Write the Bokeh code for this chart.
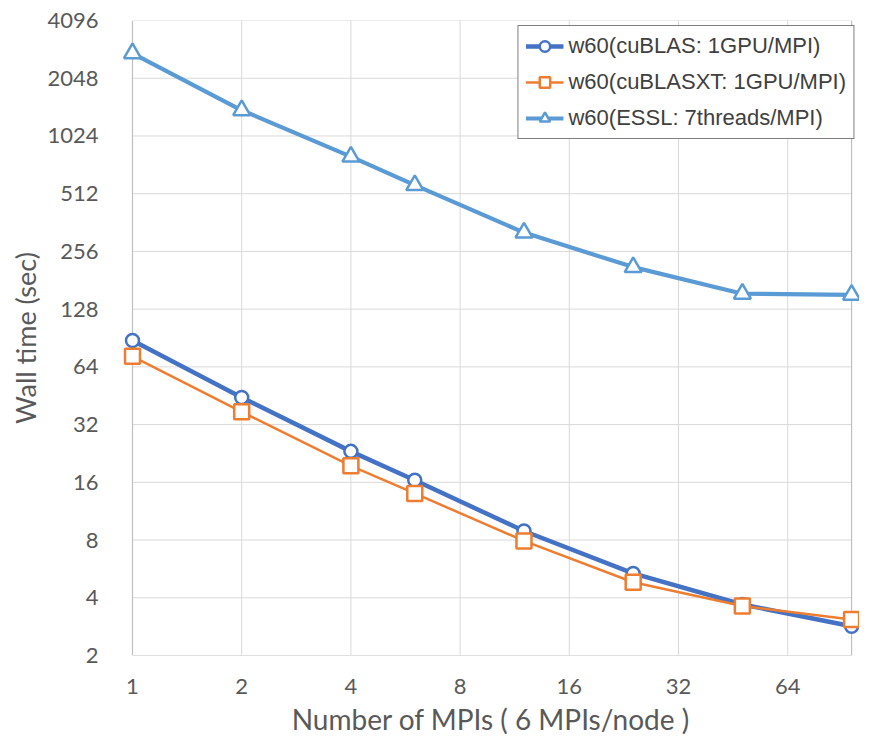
from bokeh.plotting import figure
from bokeh.models import Range1d, FixedTicker, ColumnDataSource, Legend, LegendItem
from bokeh.embed import file_html
from bokeh.resources import INLINE

# ---- data ----
mpis = [1, 2, 4, 6, 12, 24, 48, 96]
cublas = [87.8, 44.3, 23.2, 16.4, 8.92, 5.36, 3.69, 2.84]
cublasxt = [72.6, 37.3, 19.5, 14.0, 7.92, 4.82, 3.62, 3.08]
essl = [2763, 1394, 799, 567, 321, 212, 154, 152]

series_names = ["w60(cuBLAS: 1GPU/MPI)", "w60(cuBLASXT: 1GPU/MPI)", "w60(ESSL: 7threads/MPI)"]

x_ticks = [1, 2, 4, 8, 16, 32, 64]
x_tick_labels = ["1", "2", "4", "8", "16", "32", "64"]
y_ticks = [2, 4, 8, 16, 32, 64, 128, 256, 512, 1024, 2048, 4096]
y_tick_labels = ["2", "4", "8", "16", "32", "64", "128", "256", "512", "1024", "2048", "4096"]

x_title = "Number of MPIs ( 6 MPIs/node )"
y_title = "Wall time (sec)"

# ---- figure ----
W, H = 859, 739
LEFT, TOP, BOTTOM = 122, 20, 84
px_per_oct_x = 109.2
pad_left = 10
x_range = Range1d(2 ** (-pad_left / px_per_oct_x), 2 ** ((W - LEFT - pad_left) / px_per_oct_x))
y_range = Range1d(y_ticks[0], y_ticks[-1])

p = figure(width=W, height=H, x_axis_type="log", y_axis_type="log",
           x_range=x_range, y_range=y_range,
           output_backend="svg", toolbar_location=None,
           min_border_left=LEFT, min_border_right=0, min_border_top=TOP, min_border_bottom=BOTTOM)
p.outline_line_color = None
p.xgrid.visible = False
p.ygrid.visible = False
p.background_fill_color = "white"
p.border_fill_color = "white"

TICK_FONT = "Lato"
TEXT_COLOR = "#595959"

for ax in (p.xaxis[0], p.yaxis[0]):
    ax.axis_line_color = None
    ax.major_tick_line_color = None
    ax.minor_tick_line_color = None
    ax.major_label_text_font = TICK_FONT
    ax.major_label_text_font_size = "22px"
    ax.major_label_text_color = TEXT_COLOR
    ax.axis_label_text_font = TICK_FONT
    ax.axis_label_text_font_style = "normal"
    ax.axis_label_text_color = TEXT_COLOR

p.xaxis.axis_label_text_font_size = "28px"
p.yaxis.axis_label_text_font_size = "27px"
p.xaxis.ticker = FixedTicker(ticks=x_ticks, minor_ticks=[])
p.yaxis.ticker = FixedTicker(ticks=y_ticks, minor_ticks=[])
p.xaxis.major_label_overrides = {t: l for t, l in zip(x_ticks, x_tick_labels)}
p.yaxis.major_label_overrides = {t: l for t, l in zip(y_ticks, y_tick_labels)}
p.xaxis.axis_label = x_title
p.yaxis.axis_label = y_title
p.xaxis.major_label_standoff = 17
p.xaxis.axis_label_standoff = 5
p.yaxis.major_label_standoff = 18
p.yaxis.axis_label_standoff = 2

# ---- custom grid bounded to the data span ----
x_lo, x_hi = mpis[0], mpis[-1]
y_lo, y_hi = y_ticks[0], y_ticks[-1]
hsrc = ColumnDataSource(dict(x0=[x_lo] * (len(y_ticks) - 1), x1=[x_hi] * (len(y_ticks) - 1),
                             y0=y_ticks[1:], y1=y_ticks[1:]))
p.segment("x0", "y0", "x1", "y1", source=hsrc, line_color="#d9d9d9", line_width=1, level="underlay")
vsrc = ColumnDataSource(dict(x0=x_ticks[1:], x1=x_ticks[1:],
                             y0=[y_lo] * (len(x_ticks) - 1), y1=[y_hi] * (len(x_ticks) - 1)))
p.segment("x0", "y0", "x1", "y1", source=vsrc, line_color="#d9d9d9", line_width=1, level="underlay")
# frame borders (left, bottom, right)
bsrc = ColumnDataSource(dict(x0=[x_lo, x_lo, x_hi], x1=[x_lo, x_hi, x_hi],
                             y0=[y_lo, y_lo, y_lo], y1=[y_hi, y_lo, y_hi]))
p.segment("x0", "y0", "x1", "y1", source=bsrc, line_color="#bfbfbf", line_width=1.2, level="underlay")

# ---- series ----
BLUE = "#4472C4"
ORANGE = "#ED7D31"
LBLUE = "#5B9BD5"

src = ColumnDataSource(dict(x=mpis, cublas=cublas, cublasxt=cublasxt, essl=essl))

r_e_l = p.line("x", "essl", source=src, line_color=LBLUE, line_width=4.2)
r_e_m = p.scatter("x", "essl", source=src, marker="triangle", size=17,
                  fill_color="white", line_color=LBLUE, line_width=2.5)

r_c_l = p.line("x", "cublas", source=src, line_color=BLUE, line_width=4.5)
r_c_m = p.scatter("x", "cublas", source=src, marker="circle", size=13,
                  fill_color="white", line_color=BLUE, line_width=2.5)

r_x_l = p.line("x", "cublasxt", source=src, line_color=ORANGE, line_width=2.5)
r_x_m = p.scatter("x", "cublasxt", source=src, marker="square", size=15,
                  fill_color="white", line_color=ORANGE, line_width=2.5)

legend = Legend(items=[
    LegendItem(label=series_names[0], renderers=[r_c_l, r_c_m]),
    LegendItem(label=series_names[1], renderers=[r_x_l, r_x_m]),
    LegendItem(label=series_names[2], renderers=[r_e_l, r_e_m]),
], location="top_right", margin=5, padding=7, spacing=10, label_standoff=5,
    glyph_width=38, glyph_height=26, label_height=26,
    label_text_font="Liberation Sans", label_text_font_size="22px", label_text_color="#404040",
    border_line_color="black", border_line_width=1.3, background_fill_color="white",
    background_fill_alpha=1.0)
p.add_layout(legend)

open("out.html", "w").write(file_html(p, INLINE))
